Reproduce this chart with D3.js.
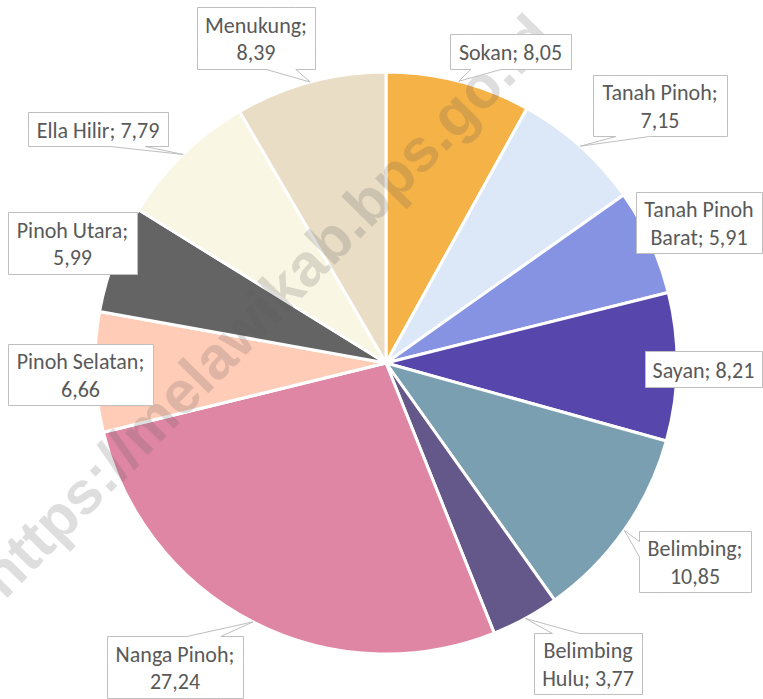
<!DOCTYPE html>
<meta charset="UTF-8">
<style>
body { margin: 0; background: #fff; }
svg { display: block; }
.lbl text { font-family: Carlito, Lato, "Open Sans", sans-serif; font-size: 22px; fill: #595959; }
.lbl path { fill: #fff; stroke: #bfbfbf; stroke-width: 1; }
</style>
<body>
<script src="https://cdn.jsdelivr.net/npm/d3@7/dist/d3.min.js"></script>
<script>

// data (clockwise from 12 o'clock)
var names = ["Sokan", "Tanah Pinoh", "Tanah Pinoh Barat", "Sayan", "Belimbing", "Belimbing Hulu",
             "Nanga Pinoh", "Pinoh Selatan", "Pinoh Utara", "Ella Hilir", "Menukung"];
var values = [8.05, 7.15, 5.91, 8.21, 10.85, 3.77, 27.24, 6.66, 5.99, 7.79, 8.39];
var colors = ["#f5b247", "#dce7f8", "#8593e2", "#5747ac", "#799fb0", "#635889",
              "#de86a4", "#ffccb8", "#646464", "#faf6e4", "#e9ddc6"];

// label boxes: x, y, w, h, words on first line (0 = single line), show pointer
var boxes = {
  "Sokan":             [450, 34, 121, 35, 0, true],
  "Tanah Pinoh":       [593, 75, 134, 61, 2, true],
  "Tanah Pinoh Barat": [636, 192, 126, 61, 2, false],
  "Sayan":             [645, 351, 117, 36, 0, false],
  "Belimbing":         [639, 531, 112, 61, 1, true],
  "Belimbing Hulu":    [534, 633, 108, 61, 1, true],
  "Nanga Pinoh":       [107, 636, 136, 62, 2, true],
  "Pinoh Selatan":     [8, 344, 145, 61, 2, false],
  "Pinoh Utara":       [8, 212, 129, 62, 2, false],
  "Ella Hilir":        [28, 112, 140, 34, 0, true],
  "Menukung":          [197, 7, 118, 62, 1, true]
};

var width = 763, height = 699;
var cx = 386, cy = 363, radius = 291;

var svg = d3.select("body").append("svg")
    .attr("width", width)
    .attr("height", height);

var pie = d3.pie().sort(null).value(function(d) { return d.value; });
var arc = d3.arc().innerRadius(0).outerRadius(radius);
var tipArc = d3.arc().innerRadius(radius).outerRadius(radius);

var rows = names.map(function(n, i) { return {name: n, value: values[i], color: colors[i]}; });
var arcs = pie(rows);

var g = svg.append("g").attr("transform", "translate(" + cx + "," + cy + ")");

g.selectAll("path.slice")
  .data(arcs)
  .enter().append("path")
    .attr("class", "slice")
    .attr("d", arc)
    .attr("fill", function(d) { return d.data.color; })
    .attr("stroke", "#fff")
    .attr("stroke-width", 3)
    .attr("stroke-linejoin", "round");

// watermark (sits over the pie, under the labels)
svg.append("text")
    .attr("transform", "translate(269,309) rotate(-45.5)")
    .attr("text-anchor", "middle")
    .attr("dominant-baseline", "middle")
    .style("font-family", "'Liberation Sans', Arial, sans-serif")
    .style("font-weight", "bold")
    .style("font-size", "60px")
    .style("fill", "rgba(90,90,90,0.2)")
    .text("https://melawikab.bps.go.id");

// excel style rectangular callout
function callout(l, t, w, h, px, py) {
  var r = l + w, b = t + h, hc = l + w / 2, vc = t + h / 2;
  var dx = px - hc, dy = py - vc;
  var dq = dx * h / w;
  var dz = Math.abs(dy) - Math.abs(dq);
  var x1 = l + w * (dx > 0 ? 7 : 2) / 12, x2 = l + w * (dx > 0 ? 10 : 5) / 12;
  var y1 = t + h * (dy > 0 ? 7 : 2) / 12, y2 = t + h * (dy > 0 ? 10 : 5) / 12;
  var xl = dz > 0 ? l : (dx > 0 ? l : px);
  var yl = dz > 0 ? y1 : (dx > 0 ? y1 : py);
  var xt = dz > 0 ? (dy > 0 ? x1 : px) : x1;
  var yt = dz > 0 ? (dy > 0 ? t : py) : t;
  var xr = dz > 0 ? r : (dx > 0 ? px : r);
  var yr = dz > 0 ? y1 : (dx > 0 ? py : y1);
  var xb = dz > 0 ? (dy > 0 ? px : x1) : x1;
  var yb = dz > 0 ? (dy > 0 ? py : b) : b;
  var p = d3.path();
  p.moveTo(l, t); p.lineTo(x1, t); p.lineTo(xt, yt); p.lineTo(x2, t); p.lineTo(r, t);
  p.lineTo(r, y1); p.lineTo(xr, yr); p.lineTo(r, y2); p.lineTo(r, b);
  p.lineTo(x2, b); p.lineTo(xb, yb); p.lineTo(x1, b); p.lineTo(l, b);
  p.lineTo(l, y2); p.lineTo(xl, yl); p.lineTo(l, y1); p.closePath();
  return p.toString();
}

var fmt = function(v) { return d3.format(".2f")(v).replace(".", ","); };

var lbl = svg.selectAll("g.lbl")
  .data(arcs)
  .enter().append("g")
    .attr("class", "lbl");

lbl.append("path")
    .attr("d", function(d) {
      var bx = boxes[d.data.name];
      var c = tipArc.centroid(d);
      if (!bx[5]) return "M" + (bx[0] + 0.5) + "," + (bx[1] + 0.5) + "h" + bx[2] + "v" + bx[3] + "h" + (-bx[2]) + "Z";
      return callout(bx[0] + 0.5, bx[1] + 0.5, bx[2], bx[3], cx + c[0], cy + c[1]);
    });

lbl.each(function(d) {
  var bx = boxes[d.data.name];
  var words = (d.data.name + "; " + fmt(d.data.value)).split(" ");
  var lines = bx[4] ? [words.slice(0, bx[4]).join(" "), words.slice(bx[4]).join(" ")] : [words.join(" ")];
  var t = d3.select(this).append("text")
      .attr("text-anchor", "middle");
  lines.forEach(function(s, i) {
    t.append("tspan")
      .attr("x", bx[0] + bx[2] / 2)
      .attr("y", bx[1] + bx[3] / 2 + (i - (lines.length - 1) / 2) * 27.5 + 8.5)
      .text(s);
  });
});

</script>
</body>
